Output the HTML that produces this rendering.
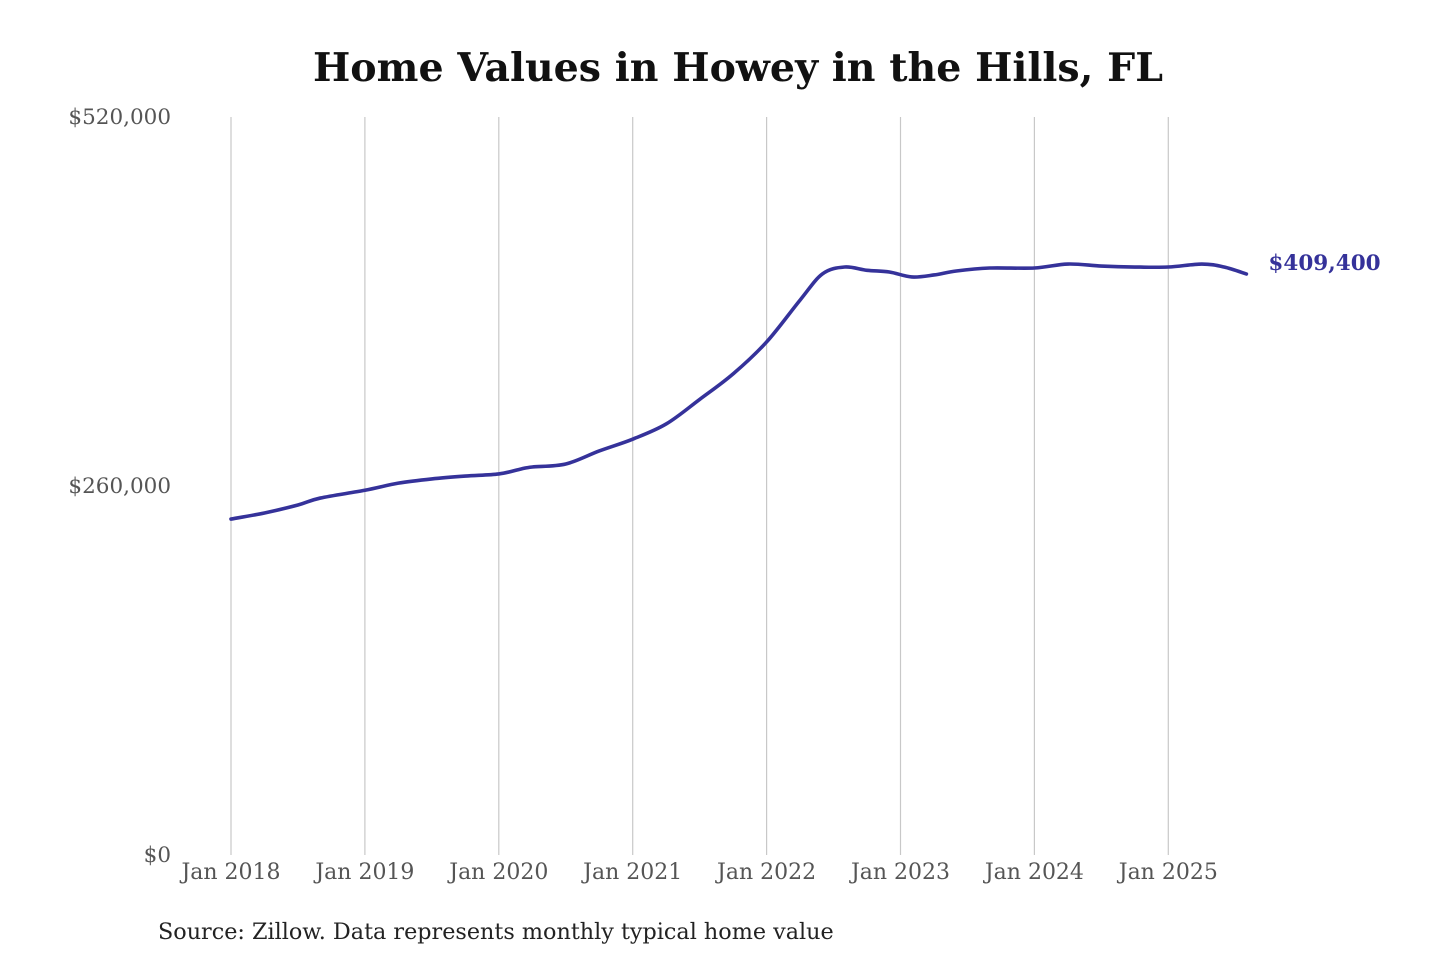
<!DOCTYPE html>
<html><head><meta charset="utf-8"><style>
body{margin:0;background:#fff;}
svg{display:block;font-family:"DejaVu Serif","Liberation Serif",serif;}
</style></head><body>
<svg id="chart" width="1440" height="960" viewBox="0 0 1440 960">
<text x="738" y="81" text-anchor="middle" font-size="39.5" font-weight="bold" fill="#111">Home Values in Howey in the Hills, FL</text>
<g id="grid"></g><g id="yaxis"></g><g id="xaxis"></g><g id="series"></g>
<text x="158" y="939" font-size="22.3" fill="#222">Source: Zillow. Data represents monthly typical home value</text>
</svg>
<script>
const xTickLabels=["Jan 2018","Jan 2019","Jan 2020","Jan 2021","Jan 2022","Jan 2023","Jan 2024","Jan 2025"];
const yTicks=[0,260000,520000];
const yTickLabels=["$0","$260,000","$520,000"];
const dates=["2018-01","2018-04","2018-07","2018-09","2019-01","2019-04","2019-07","2019-10","2020-01","2020-03","2020-04","2020-07","2020-10","2021-01","2021-04","2021-07","2021-10","2022-01","2022-04","2022-06","2022-08","2022-10","2022-12","2023-02","2023-04","2023-06","2023-09","2024-01","2024-04","2024-07","2024-10","2025-01","2025-04","2025-06","2025-08"];
const values=[236700,241000,246600,251500,257000,262000,265000,267000,268500,272000,273400,275500,284700,293000,303700,321000,339000,361500,391000,409400,414300,412000,410800,407300,408700,411500,413600,413600,416400,415000,414300,414300,416400,414300,409400];
const lastLabel="$409,400";
const NS="http://www.w3.org/2000/svg";
const x0=231,pxPerYear=133.9,yBase=855,yTop=117;
function monthIdx(d){const [y,m]=d.split("-").map(Number);return (y-2018)*12+(m-1);}
function xScale(mi){return x0+mi/12*pxPerYear;}
function yScale(v){return yBase-(v/520000)*(yBase-yTop);}
function mk(tag,attrs,parent){const e=document.createElementNS(NS,tag);for(const k in attrs)e.setAttribute(k,attrs[k]);parent.appendChild(e);return e;}
const grid=document.getElementById("grid"),xa=document.getElementById("xaxis"),ya=document.getElementById("yaxis"),ser=document.getElementById("series");
xTickLabels.forEach((l,i)=>{
 const x=xScale(i*12);
 const gl=mk("line",{x1:x,x2:x,y1:yTop,y2:yBase,stroke:"#c8c8c8","stroke-width":1.2},grid);
 
 
 const t=mk("text",{x:x,y:879,"text-anchor":"middle","font-size":22,fill:"#555"},xa);
 t.textContent=l;
 
 
});
yTicks.forEach((v,i)=>{
 const t=mk("text",{x:171,y:yScale(v)+7,"text-anchor":"end","font-size":21.5,fill:"#555"},ya);
 t.textContent=yTickLabels[i];
 
 
});
const pts=dates.map((d,i)=>[xScale(monthIdx(d)),yScale(values[i])]);
let dpath="M"+pts[0][0]+","+pts[0][1];
for(let i=0;i<pts.length-1;i++){
 const p0=pts[Math.max(0,i-1)],p1=pts[i],p2=pts[i+1],p3=pts[Math.min(pts.length-1,i+2)];
 const c1=[p1[0]+(p2[0]-p0[0])/6,p1[1]+(p2[1]-p0[1])/6],c2=[p2[0]-(p3[0]-p1[0])/6,p2[1]-(p3[1]-p1[1])/6];
 dpath+=` C${c1[0]},${c1[1]} ${c2[0]},${c2[1]} ${p2[0]},${p2[1]}`;
}
const line=mk("path",{d:dpath,fill:"none",stroke:"#35329a","stroke-width":3.6,"stroke-linejoin":"round","stroke-linecap":"round"},ser);


const last=pts[pts.length-1];
const lbl=mk("text",{x:last[0]+22,y:yScale(values[values.length-1])-4,"font-size":21.5,"font-weight":"bold",fill:"#35329a"},ser);
lbl.textContent=lastLabel;


</script>
</body></html>
